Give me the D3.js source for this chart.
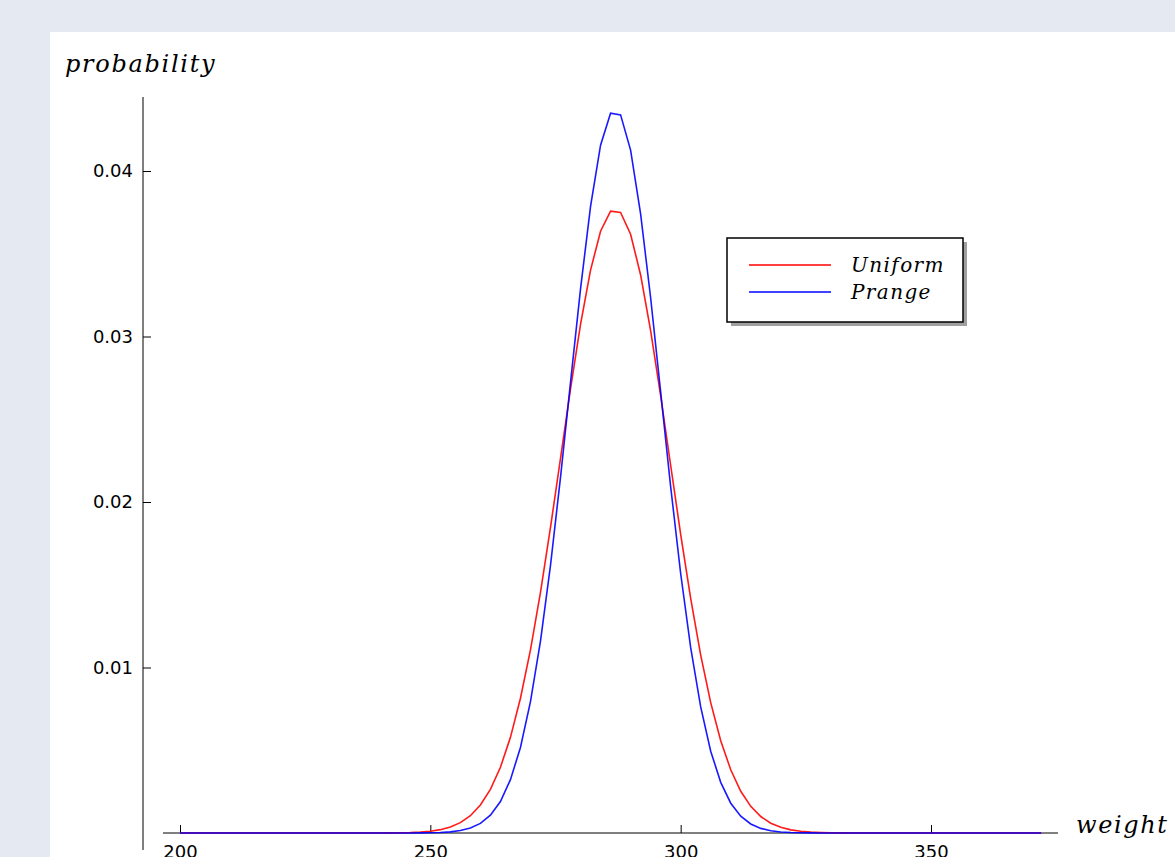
<!DOCTYPE html>
<html>
<head>
<meta charset="utf-8">
<script src="https://cdn.jsdelivr.net/npm/d3@7"></script>
<style>
    body { margin: 0; background: #e5eaf2; }
    .tick text { font-family: "DejaVu Sans", sans-serif; font-size: 18px; fill: #000; }
    .tick line { stroke: #000; stroke-width: 1; }
    .math { font-family: "DejaVu Serif", serif; font-style: italic; fill: #000; }
</style>
</head>
<body>
<div class="chart"></div>
<script>
// weights (x), step 2
const weights = d3.range(200, 374, 2)

// probabilities, 200..372
const uniform = [
    0, 0, 0, 0, 0, 0, 0, 0, 0, 0,
    0, 0, 0, 0, 0, 0, 0, 0, 0, 0.000002,
    0.000004, 0.000008, 0.000015, 0.000029, 0.000057, 0.000109, 0.000202, 0.000362, 0.000626, 0.001046,
    0.00169, 0.00264, 0.00397, 0.00578, 0.00814, 0.01107, 0.01454, 0.01846, 0.02264, 0.02684,
    0.03073, 0.03401, 0.03636, 0.03757, 0.03750, 0.03618, 0.03372, 0.03036, 0.02642, 0.02222,
    0.01805, 0.01417, 0.01075, 0.00788, 0.00558, 0.00382, 0.00252, 0.00161, 0.000995, 0.000594,
    0.000342, 0.000190, 0.000103, 0.000053, 0.000026, 0.000012, 0.000005, 0.000002, 0, 0,
    0, 0, 0, 0, 0, 0, 0, 0, 0, 0,
    0, 0, 0, 0, 0, 0, 0
]

const prange = [
    0, 0, 0, 0, 0, 0, 0, 0, 0, 0,
    0, 0, 0, 0, 0, 0, 0, 0, 0, 0,
    0, 0, 0, 0.000002, 0.000005, 0.0000128, 0.0000302, 0.000068, 0.000146, 0.000298,
    0.000579, 0.001076, 0.001905, 0.00322, 0.00517, 0.00794, 0.01160, 0.01617, 0.02149, 0.02723,
    0.03288, 0.03786, 0.04156, 0.04349, 0.04339, 0.04126, 0.03741, 0.03234, 0.02665, 0.02093,
    0.01568, 0.01120, 0.00762, 0.00494, 0.00306, 0.00180, 0.001014, 0.000544, 0.000278, 0.000135,
    0.0000629, 0.0000278, 0.0000117, 0.0000047, 0.000002, 0, 0, 0, 0, 0,
    0, 0, 0, 0, 0, 0, 0, 0, 0, 0,
    0, 0, 0, 0, 0, 0, 0
]

const x_ticks = [200, 250, 300, 350]
const y_ticks = [0.01, 0.02, 0.03, 0.04]
const series_names = ["Uniform", "Prange"]
const series_colors = ["#ff0000", "#0000ff"]

const ctx = {
    W: 1175,
    H: 857,
}

function draw_chart() {
    const svg = d3.select(".chart")
        .append("svg")
        .attr("width", ctx.W)
        .attr("height", ctx.H)

    // white panel
    svg.append("rect")
        .attr("x", 50).attr("y", 32)
        .attr("width", ctx.W - 50).attr("height", ctx.H - 32)
        .attr("fill", "#fff")

    const x = d3.scaleLinear().domain([200, 350]).range([180, 931])
    const y = d3.scaleLinear().domain([0, 0.04]).range([833, 171])

    // spines (offset, like the original)
    svg.append("line")
        .attr("x1", 143).attr("x2", 143)
        .attr("y1", 97).attr("y2", 850)
        .attr("stroke", "#000").attr("stroke-width", 1)
    svg.append("line")
        .attr("x1", 163).attr("x2", 1058)
        .attr("y1", y(0)).attr("y2", y(0))
        .attr("stroke", "#000").attr("stroke-width", 1)

    const y_axis = svg.append("g")
        .attr("transform", "translate(143,0)")
        .call(d3.axisLeft(y).tickValues(y_ticks).tickSize(-8).tickPadding(10).tickFormat(d3.format(".2f")))
    y_axis.select(".domain").remove()

    const x_axis = svg.append("g")
        .attr("transform", `translate(0,${y(0)})`)
        .call(d3.axisBottom(x).tickValues(x_ticks).tickSize(-8).tickPadding(12).tickFormat(d3.format("d")))
    x_axis.select(".domain").remove()

    // curves
    const line = d3.line()
        .x(d => x(d[0]))
        .y(d => y(d[1]))

    const all_series = [uniform, prange]
    all_series.forEach((values, i) => {
        svg.append("path")
            .datum(weights.map((w, j) => [w, values[j]]))
            .attr("d", line)
            .attr("fill", "none")
            .attr("stroke", series_colors[i])
            .attr("stroke-width", 1.6)
            .attr("stroke-opacity", 0.9)
    })

    // axis titles
    svg.append("text")
        .attr("class", "math")
        .attr("x", 65).attr("y", 72)
        .attr("font-size", 24)
        .attr("letter-spacing", 1.7)
        .text("probability")
    svg.append("text")
        .attr("class", "math")
        .attr("x", 1076).attr("y", y(0))
        .attr("font-size", 24)
        .attr("letter-spacing", 1.6)
        .text("weight")

    // legend
    const legend = svg.append("g")
        .attr("transform", "translate(727,238)")
    legend.append("rect")
        .attr("x", 4).attr("y", 4)
        .attr("width", 236).attr("height", 84)
        .attr("fill", "#888")
        .attr("opacity", 0.8)
    legend.append("rect")
        .attr("width", 236).attr("height", 84)
        .attr("fill", "#fff")
        .attr("stroke", "#000")
        .attr("stroke-width", 1.5)

    series_names.forEach((name, i) => {
        legend.append("line")
            .attr("x1", 22).attr("x2", 104)
            .attr("y1", 27 + i * 27).attr("y2", 27 + i * 27)
            .attr("stroke", series_colors[i])
            .attr("stroke-width", 1.6)
        legend.append("text")
            .attr("class", "math")
            .attr("x", 124).attr("y", 34 + i * 27)
            .attr("font-size", 20)
            .attr("letter-spacing", 1.4)
            .text(name)
    })
}

draw_chart()
</script>
</body>
</html>
